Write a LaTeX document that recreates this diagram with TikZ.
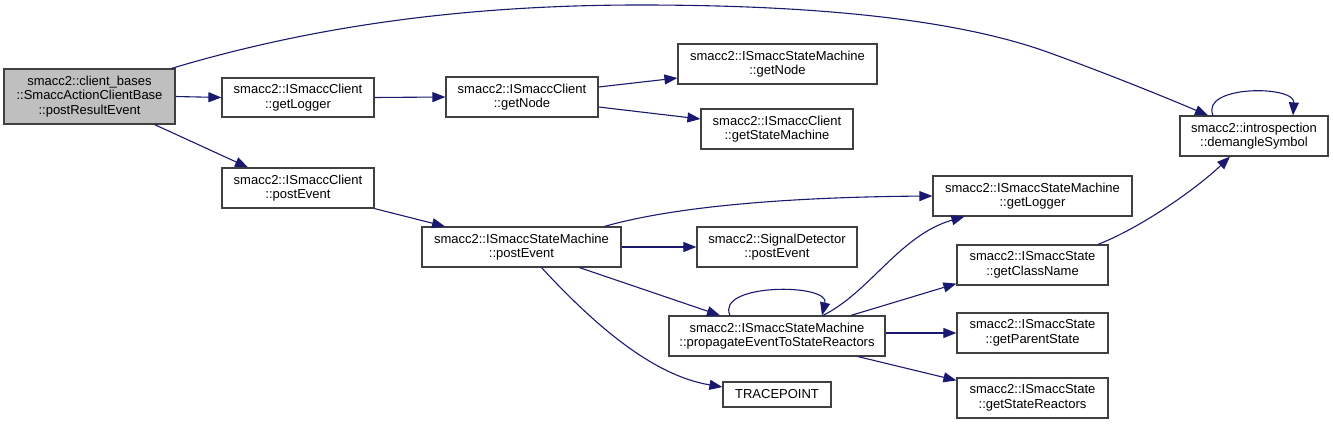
\documentclass[tikz,border=0pt]{standalone}
\usepackage{fontspec}
\setmainfont{Liberation Sans}
\usetikzlibrary{arrows.meta}
\definecolor{edgec}{HTML}{191970}
\definecolor{bordc}{HTML}{404040}
\definecolor{grayfill}{HTML}{BFBFBF}
\begin{document}
\begin{tikzpicture}[x=1pt,y=-1pt,
  fn/.style={draw=bordc, line width=1.2pt, fill=white, inner sep=0pt, align=center,
    font=\fontsize{13}{14.5}\selectfont},
  call/.style={draw=edgec, line width=1.1pt, -{Triangle[length=13pt,width=10pt]}}]
\useasboundingbox (0,0) rectangle (1333,425);
% nodes
\node[fn, fill=grayfill, minimum width=171pt, minimum height=55pt] (A) at (89.5,96.5)
  {smacc2::client\_bases\\::SmaccActionClientBase\\::postResultEvent};
\node[fn, minimum width=152pt, minimum height=39pt] (B) at (298,97.5)
  {smacc2::ISmaccClient\\::getLogger};
\node[fn, minimum width=152pt, minimum height=40pt] (C) at (298,188)
  {smacc2::ISmaccClient\\::postEvent};
\node[fn, minimum width=152pt, minimum height=40pt] (D) at (522,97)
  {smacc2::ISmaccClient\\::getNode};
\node[fn, minimum width=199pt, minimum height=40pt] (E) at (777.5,64)
  {smacc2::ISmaccStateMachine\\::getNode};
\node[fn, minimum width=152pt, minimum height=40pt] (F) at (777,129)
  {smacc2::ISmaccClient\\::getStateMachine};
\node[fn, minimum width=199pt, minimum height=40pt] (G) at (521.5,247)
  {smacc2::ISmaccStateMachine\\::postEvent};
\node[fn, minimum width=160pt, minimum height=40pt] (H) at (777,247)
  {smacc2::SignalDetector\\::postEvent};
\node[fn, minimum width=199pt, minimum height=40pt] (I) at (1032.5,196)
  {smacc2::ISmaccStateMachine\\::getLogger};
\node[fn, minimum width=216pt, minimum height=40pt] (J) at (777,336)
  {smacc2::ISmaccStateMachine\\::propagateEventToStateReactors};
\node[fn, minimum width=108pt, minimum height=25pt] (K) at (777,394.5)
  {TRACEPOINT};
\node[fn, minimum width=151pt, minimum height=40pt] (L) at (1032.5,265)
  {smacc2::ISmaccState\\::getClassName};
\node[fn, minimum width=151pt, minimum height=40pt] (M) at (1032.5,333)
  {smacc2::ISmaccState\\::getParentState};
\node[fn, minimum width=151pt, minimum height=40pt] (N) at (1032.5,398)
  {smacc2::ISmaccState\\::getStateReactors};
\node[fn, minimum width=148pt, minimum height=40pt] (O) at (1254,136)
  {smacc2::introspection\\::demangleSymbol};
% edges
\draw[call] (A.east) -- (B.west);
\draw[call] ([xshift=-21pt]A.south east) -- ([xshift=-50pt]C.north);
\draw[call] ([xshift=-4pt]A.north east) .. controls (300,30) and (450,5) .. (640,5)
  .. controls (820,5) and (960,20) .. (1050,53)
  .. controls (1100,71) and (1160,95) .. ([xshift=-46pt]O.north);
\draw[call] (B.east) -- (D.west);
\draw[call] ([yshift=10pt]D.east) -- ([yshift=-14pt]E.west);
\draw[call] ([yshift=-10pt]D.east) -- ([yshift=10pt]F.west);
\draw[call] (C.south east) -- ([xshift=-76.5pt]G.north);
\draw[call] ([xshift=83pt]G.north) .. controls (680,205) and (800,197) .. (I.west);
\draw[call] (G.east) -- (H.west);
\draw[call] ([xshift=58pt]G.south) -- ([xshift=-57pt]J.north);
\draw[call] ([xshift=20pt]G.south) .. controls (590,320) and (650,375) .. ([yshift=7.5pt]K.west);
\draw[call] ([xshift=-47pt]J.north) .. controls (715,283) and (830,283) .. ([xshift=45pt]J.north);
\draw[call] ([xshift=46pt]J.north) .. controls (870,292) and (900,235) .. ([xshift=32pt]I.south west);
\draw[call] ([xshift=74pt]J.north) -- ([yshift=2pt]L.south west);
\draw[call] (J.east |- M.west) -- (M.west);
\draw[call] ([xshift=81pt]J.south) -- ([yshift=-3pt]N.north west);
\draw[call] ([xshift=65.5pt]L.north) .. controls (1140,228) and (1195,190) .. ([xshift=-24pt]O.south);
\draw[call] ([xshift=-41pt]O.north) .. controls (1200,85) and (1295,85) .. ([xshift=39pt]O.north);
\end{tikzpicture}
\end{document}
